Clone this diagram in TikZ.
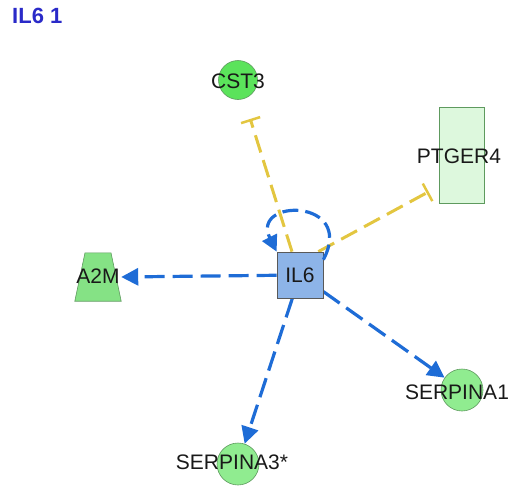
\documentclass[tikz,border=0pt]{standalone}
\usepackage{fontspec}
\setmainfont{Liberation Sans}
\usetikzlibrary{arrows.meta,backgrounds}
\definecolor{actblue}{HTML}{1E6CD6}
\definecolor{inhyellow}{HTML}{E3C640}
\definecolor{titleblue}{HTML}{2A2AC8}
\definecolor{genegreen}{HTML}{90EC90}
\definecolor{brightgreen}{HTML}{5BE35B}
\definecolor{trapgreen}{HTML}{85E285}
\definecolor{paleGreen}{HTML}{DDF8DD}
\definecolor{hubblue}{HTML}{8DB4E8}
\definecolor{edgegreen}{HTML}{5E9A5E}
\tikzset{
  gene/.style={circle, minimum size=42pt, inner sep=0pt, fill=genegreen, draw=edgegreen, line width=0.6pt},
  lbl/.style={inner sep=0pt, font=\fontsize{21}{21}\selectfont, text=black!90},
  activates/.style={draw=actblue, line width=3.2pt, dash pattern=on 20pt off 8pt,
    -{Triangle[length=17pt,width=17pt]}},
  inhibits/.style={draw=inhyellow, line width=3pt, dash pattern=on 18pt off 8pt,
    -{Bar[width=20pt,line width=2.5pt]}}
}
\begin{document}
\begin{tikzpicture}[x=1pt,y=-1pt]
  \useasboundingbox (0,0) rectangle (520,490);
  % title
  \node[anchor=west, inner sep=0pt, font=\fontsize{22}{22}\selectfont\bfseries, text=titleblue] (title) at (12,16) {IL6 1};

  % molecules
  \node[gene, minimum size=39pt, fill=brightgreen] (cst3) at (238,80) {};
  \node[lbl] (cst3l) at (238,81) {CST3};
  \node[rectangle, minimum width=45pt, minimum height=96pt, inner sep=0pt, fill=paleGreen, draw=edgegreen, line width=0.6pt] (ptger4) at (462,155) {};
  \node[lbl] (ptger4l) at (459,156) {PTGER4};
  % A2M: trapezium drawn on an invisible frame
  \node[rectangle, minimum width=46pt, minimum height=48pt, inner sep=0pt] (a2m) at (98,277) {};
  \filldraw[fill=trapgreen, draw=edgegreen, line width=0.6pt]
    ([xshift=-13pt]a2m.north) -- ([xshift=13pt]a2m.north) -- (a2m.south east) -- (a2m.south west) -- cycle;
  \node[lbl] (a2ml) at (98,276) {A2M};
  \node[rectangle, minimum size=46pt, inner sep=0pt, fill=hubblue, draw=black!65, line width=0.7pt] (il6) at (300,275) {};
  \node[lbl] (il6l) at (300,275) {IL6};
  \node[gene] (serpa1) at (462,390) {};
  \node[lbl] (serpa1l) at (457,392) {SERPINA1};
  \node[gene] (serpa3) at (238,464) {};
  \node[lbl] (serpa3l) at (232,462) {SERPINA3*};

  % relationships, drawn beneath the molecules
  \begin{scope}[on background layer]
    \draw[inhibits, shorten >=21pt] ([xshift=-8pt]il6.north) -- (cst3);
    \coordinate (ptbar) at (ptger4.west |- 0,186);
    \draw[inhibits, shorten >=12pt] ([xshift=-5pt]il6.north east) -- (ptbar);
    \draw[activates] (il6) -- (a2m.east);
    \draw[activates] (il6) -- (serpa1);
    \draw[activates] (il6) -- (serpa3);
  \end{scope}
  % self-regulation loop
  \coordinate (loopS) at ([yshift=-8pt]il6.north east);
  \draw[draw=actblue, line width=3.2pt, dash pattern=on 16pt off 7pt, -{Triangle[length=16pt,width=16pt]}]
    (loopS) .. controls (356,198) and (250,198) .. (il6.north west);
\end{tikzpicture}
\end{document}
